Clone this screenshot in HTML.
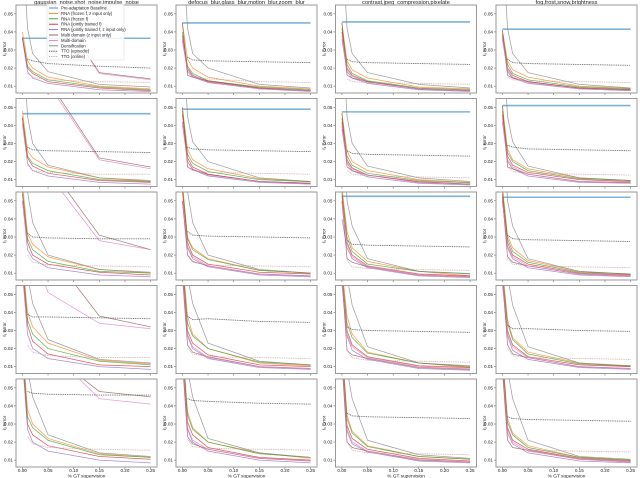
<!DOCTYPE html>
<html><head><meta charset="utf-8">
<style>
html,body{margin:0;padding:0;background:#fff;}
svg{display:block;font-family:"Liberation Sans",sans-serif;}
</style></head>
<body>
<svg id="chart" width="640" height="478" viewBox="0 0 640 478" xmlns="http://www.w3.org/2000/svg"></svg>
<script>
// x positions (% GT supervision)
const xs = [0, 0.01, 0.02, 0.05, 0.15, 0.25];
const colTitles = ["gaussian_noise,shot_noise,impulse_noise","defocus_blur,glass_blur,motion_blur,zoom_blur","contrast,jpeg_compression,pixelate","fog,frost,snow,brightness"];
const xTicks = [0, 0.05, 0.10, 0.15, 0.20, 0.25];
const xTickLabels = ["0.00","0.05","0.10","0.15","0.20","0.25"];
const yTicks = [0.01, 0.02, 0.03, 0.04, 0.05];
const yTickLabels = ["0.01","0.02","0.03","0.04","0.05"];
// values are in units of 0.001; panels ordered row by row (4 per row)
const baseline = [36.5,45,45.5,41.5, 46.5,49,47.5,51, null,null,52.5,52, null,null,null,null, null,null,null,null];
const rnaFrozenFZ = [
[40,24,20,15,10,8.5],[45,25,20,15,10,8.5],[45,24,19,14.5,9.5,8.5],[41,24,19,15,10,8.8],
[48,26,22,17,11,9],[50,27,21,16,10.5,9],[47,26,20,15,10,8.5],[51,27,21,16,11,9.5],
[60,32,26,19,12,10],[60,30,24,18,11.5,10],[58,33,24,16.5,11,8.5],[58,31,24,17,11,9.3],
[70,40,32,23,13.5,11.5],[70,38,28,20,12,10.5],[65,38,28,18,12,9.5],[65,36,26,18,12,10],
[75,38,30,22,13.5,11.5],[75,37,28,20,14,11],[75,35,26,18,12,10.5],[70,33,25,18,11.5,10]];
const rnaFrozenF = [
[37,21,18,13.5,9.5,8],[40,21,17,13,9.5,8],[42,22,17,13,9,8],[39,22,17,13.5,9.5,8.5],
[45,23,19,15,10,9],[48,24,19,14.5,10,8.8],[44,23,18,13.5,9.5,8.2],[48,25,20,15,10.5,9.5],
[56,29,23,16.5,11,10],[58,29,23,17.5,11.5,10],[55,30,22,15,11,9.8],[56,29,22,16,10.5,9.5],
[68,36,28,20,13,11],[68,34,27,20,12.5,11],[62,34,26,17.5,12,10],[62,34,25,17,11.5,10.5],
[72,34,28,21,13,11.5],[72,35,27,20,13.5,11.5],[72,33,25,17.5,12,10.5],[68,31,24,17,11.5,10]];
const rnaJointF = [
[37,20,17,12.5,9,7.5],[38,20,16,12.5,9,7.5],[40,20,16,12.5,8.5,7.5],[38,20,16,12.5,9,8],
[44,22,17.5,13.5,9.5,8.5],[46,22,17,13,9,8],[42,21,16.5,12.5,9,7.5],[46,23,18,14,10,9],
[54,27,20,15,10.5,9],[55,27,20,15,10.5,9.5],[53,27,20,14,9.5,8.5],[54,27,20,15,10,9],
[66,33,24,17,11,10],[66,30,23,16.5,11,10],[60,30,22,15.5,10.5,9.5],[60,30,22,15.5,11,10],
[70,30,24,18,12,10.5],[70,31,24,17,11.5,10],[70,29,22,16,11,9.5],[66,28,21,16,11,9.5]];
const rnaJointFZ = [
[36,18,14.5,11.5,8,7],[35,18,15,12,8.5,7],[36,18,14.5,11.5,8,7],[36,18,14.5,11.5,8.5,7.5],
[41,19,15,12,8.5,7.5],[42,20,15.5,12,8.5,7.5],[38,19,15,11.5,8,7],[42,20,16,12,8.5,8],
[50,23,18,13,9,8],[50,24,18,13.5,9,8],[40,24,18,13,8.5,7.5],[50,24,18,13,9,8],
[62,28,20,14.5,10,8.5],[62,27,20,14.5,9.5,8.5],[56,27,19,14,9,8],[56,27,19,14,9.5,8.5],
[66,27,20,15,10,8.5],[66,27,20,15,10,8.5],[66,26,19,14.5,9.5,8.5],[62,25,19,14,9.5,8.5]];
const multiDomainX = [
[95,85,75,60,17.5,14],[45,16,15,13,9,7.5],[45,16,14.5,12.5,8.5,7.5],[41,16,14.5,12.5,9,8],
[100,90,80,65,22,17],[50,17,15.5,13,9,8],[47,17,15,12.5,8.5,7.5],[51,17,16,13,9,8.5],
[110,95,85,70,31,23],[50,20,16.5,14,9.5,8.5],[50,18,16,13.5,9,8],[52,19,16,14,9.5,8.5],
[110,100,90,75,38,32],[60,22,18,15.5,10,9],[60,19,16.5,14.5,9.5,8.5],[60,22,17,15,10,9],
[100,95,90,70,48,45],[65,23,19,16,11,9.5],[65,20,17,15,10,9],[60,21,17,15.5,10.5,9]];
const multiDomain = [
[95,85,75,60,17,13.5],[36,19,15.5,12,8.5,7.5],[38,19,15.5,12,8.5,7.5],[37,19,15,12,8.5,7.5],
[100,88,78,63,21,16],[40,20,16,12.5,9,7.5],[40,20,16,12.5,8.5,7.5],[44,21,17,13,9,8],
[110,95,83,65,28,23],[50,25,19,14,9.5,8.5],[50,26,19,13.5,9,8],[50,25,19,14,9.5,8.5],
[100,90,75,51,34,31],[62,28,21,15,10,9],[58,28,21,15,10,9],[58,28,21,15,10,9],
[90,85,80,72,44,41],[68,28,21,16,11,9.5],[68,27,20,15,10.5,9],[64,27,20,15,10.5,9]];
const densification = [
[90,42,28,18,11,9.5],[90,42,28,20,11,9],[90,42,28,17.5,11,9],[90,42,28,17.5,11,9],
[95,45,30,18,11,9.5],[95,45,31,20,11,9],[95,45,30,17.5,11,9],[95,45,31,17.5,11,9.5],
[110,55,38,20,12,10.5],[110,55,38,20,12,10],[110,50,36,18,11,9.5],[110,50,36,18,11,9.5],
[120,60,45,25,14,12],[120,60,45,23,13,11],[120,60,44,21,12,10.5],[120,60,44,21,12,10.5],
[120,60,45,24,14,12],[120,60,45,22,14,11.5],[120,60,44,21,13,11],[120,60,44,21,12,10.5]];
const ttoEpisodic = [
[null,25,24,22.5,21,20],[null,26,24.5,24,23.5,23],[null,25,23.5,23,22.5,22],[null,25,23,22.5,22,21.5],
[null,28,26.5,26,25.5,25],[null,28,27,26.5,26,25.5],[null,26,24.5,24,23.5,23],[null,29,28,27,26.5,26],
[null,32,30,29.5,29,29],[null,33,31,30.5,30,29.5],[null,28,26,25.5,25,24.5],[null,31,29,28.5,28,27.5],
[null,39,37.5,37.5,37,36.5],[null,38,36,36.5,35,34.5],[null,32,30.5,30,29.5,29],[null,33,31,31,30,29.5],
[null,48,47,46.5,46,46],[null,44,43,42.5,41.5,41],[null,36,34.5,34,33.5,33],[null,34,33,32.5,32,31.5]];
const ttoOnline = [
[null,17,15,13.5,12.5,12],[null,16,15,14,12.5,12],[null,14,12.5,12,11.5,11],[null,15,13.5,13,12.5,12],
[null,18,15,14,13,13],[null,17,15,14,13.5,13],[null,15,13,12,11.5,11],[null,17,14.5,13.5,13,12.5],
[null,20,16,14.5,14,13.5],[null,20,16,14.5,14,13.5],[null,17,13.5,12.5,12,11.5],[null,18,15,14,13.5,13],
[null,22,18,16,15,15],[null,20,17,15.5,15,14.5],[null,19,15,13.5,13,12.5],[null,20,16,15,14.5,14],
[null,23,19,17,16,15.5],[null,22,17.5,16.5,16,15.5],[null,20,15.5,14,13.5,13],[null,21,17,15.5,15,14.5]];

const seriesList = [
 {name:"RNA (frozen f, z input only)", key:"rna-frozen-fz", data:rnaFrozenFZ, color:"#ff7f0e", dash:""},
 {name:"RNA (frozen f)", key:"rna-frozen-f", data:rnaFrozenF, color:"#2ca02c", dash:""},
 {name:"RNA (jointly trained f)", key:"rna-joint-f", data:rnaJointF, color:"#d62728", dash:""},
 {name:"RNA (jointly trained f, z input only)", key:"rna-joint-fz", data:rnaJointFZ, color:"#9467bd", dash:""},
 {name:"Multi domain (z input only)", key:"multi-domain-x", data:multiDomainX, color:"#8c564b", dash:""},
 {name:"Multi-domain", key:"multi-domain", data:multiDomain, color:"#e377c2", dash:""},
 {name:"Densification", key:"densification", data:densification, color:"#7f7f7f", dash:""},
 {name:"TTO (episodic)", key:"tto-episodic", data:ttoEpisodic, color:"#333333", dash:"1,0.8"},
 {name:"TTO (online)", key:"tto-online", data:ttoOnline, color:"#c49a9a", dash:"1,0.8"}
];

const NS = "http://www.w3.org/2000/svg";
const svg = document.getElementById("chart");
const colLeft = [16, 176, 335.5, 496];
const rowTop = [5, 98.5, 192, 285.5, 379];
const PW = 141, PH = 88;
const XMIN = -0.0125, XMAX = 0.2625, YMIN = 0.0062, YMAX = 0.0549;
function mk(tag, attrs, parent){ const e=document.createElementNS(NS,tag); for(const k in attrs) e.setAttribute(k,attrs[k]); (parent||svg).appendChild(e); return e; }

const defs = mk("defs",{});
for(let r=0;r<5;r++){
 for(let c=0;c<4;c++){
  const p = r*4+c;
  const L = colLeft[c], T = rowTop[r];
  const sx = v => L + (v-XMIN)/(XMAX-XMIN)*PW;
  const sy = v => T + PH - (v-YMIN)/(YMAX-YMIN)*PH;
  const cp = mk("clipPath",{id:"clip"+p},defs);
  mk("rect",{x:L,y:T,width:PW,height:PH},cp);
  const g = mk("g",{});
  
  
  // ticks
  xTicks.forEach((t,i)=>{
   mk("line",{x1:sx(t),x2:sx(t),y1:T+PH,y2:T+PH+2,stroke:"#444","stroke-width":0.5},g);
   if(r===4){
    const tl = mk("text",{x:sx(t),y:T+PH+5,"font-size":4.6,"text-anchor":"middle",fill:"#222"},g);
    tl.textContent = xTickLabels[i];
    
    
   }
  });
  yTicks.forEach((t,i)=>{
   mk("line",{x1:L-2,x2:L,y1:sy(t),y2:sy(t),stroke:"#444","stroke-width":0.5},g);
   const tl = mk("text",{x:L-3,y:sy(t)+1.6,"font-size":4.6,"text-anchor":"end",fill:"#222"},g);
   tl.textContent = yTickLabels[i];
   
   
  });
  const yl = mk("text",{x:0,y:0,"font-size":4.6,"text-anchor":"middle",fill:"#222",transform:`translate(${L-10},${T+PH/2}) rotate(-90)`},g);
  yl.textContent = "ℓ₁ Error";
  
  
  if(r===4){
   const xl = mk("text",{x:L+PW/2,y:T+PH+10.5,"font-size":4.8,"text-anchor":"middle",fill:"#222"},g);
   xl.textContent = "% GT supervision";
   
   
  }
  if(r===0){
   const tt = mk("text",{x:L+PW/2,y:T-0.8,"font-size":5.6,"text-anchor":"middle",fill:"#222"},g);
   tt.textContent = colTitles[c];
   
   
  }
  const lines = mk("g",{"clip-path":`url(#clip${p})`},g);
  if(baseline[p]!==null){
   const b = mk("line",{x1:sx(0),x2:sx(0.25),y1:sy(baseline[p]/1000),y2:sy(baseline[p]/1000),stroke:"#7fb3d8","stroke-width":1.6},lines);
   
   
  }
  seriesList.forEach(s=>{
   const vals = s.data[p];
   let d="";
   vals.forEach((v,i)=>{ if(v===null) return; d += (d?"L":"M")+sx(xs[i]).toFixed(2)+","+sy(v/1000).toFixed(2); });
   const pl = mk("path",{d:d,fill:"none",stroke:s.color,"stroke-width":s.dash?0.9:0.75,"stroke-opacity":0.75,"stroke-dasharray":s.dash||"none"},lines);
   
   
  });
  const fr = mk("rect",{x:L,y:T,width:PW,height:PH,fill:"none",stroke:"#999","stroke-width":1},g);
  
  
 }
}
// legend
const lg = mk("g",{});


mk("rect",{x:47,y:4,width:77,height:56,fill:"#fff","fill-opacity":0.85,stroke:"#ddd","stroke-width":0.5,rx:1},lg);
const legendItems = [{name:"Pre-adaptation Baseline",color:"#7fb3d8",dash:"",w:1.4}].concat(seriesList.map(s=>({name:s.name,color:s.color,dash:s.dash,w:0.9})));
legendItems.forEach((it,i)=>{
 const y = 8 + i*5.4;
 const e = mk("g",{},lg);
 
 
 mk("line",{x1:49,x2:58,y1:y,y2:y,stroke:it.color,"stroke-width":it.w,"stroke-dasharray":it.dash||"none"},e);
 const t = mk("text",{x:61,y:y+1.5,"font-size":4.3,fill:"#222"},e);
 t.textContent = it.name;
});
</script>
</body></html>
